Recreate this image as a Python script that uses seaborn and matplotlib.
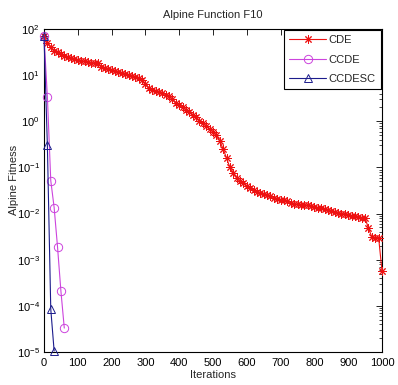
import numpy as np
import pandas as pd
import matplotlib
matplotlib.use("Agg")
import matplotlib.pyplot as plt
import seaborn as sns
from matplotlib.ticker import LogLocator, FixedLocator, NullFormatter

# ---- data ----
cde_iter = list(range(0, 1001, 10))
cde_vals = [70, 50, 40, 33, 31, 29, 26, 25, 24, 22,
            21, 20.5, 20, 19, 18.5, 18.5, 18, 15, 14.5, 13.5,
            13, 12.5, 11.5, 11, 10.5, 10, 9.5, 9, 8.5, 7.8,
            6.5, 5.2, 4.8, 4.5, 4.3, 4.1, 3.8, 3.5, 3.0, 2.5,
            2.2, 2.0, 1.8, 1.6, 1.4, 1.25, 1.0, 0.9, 0.8, 0.68,
            0.6, 0.5, 0.38, 0.25, 0.16, 0.1, 0.075, 0.06, 0.05, 0.045,
            0.04, 0.036, 0.032, 0.03, 0.028, 0.026, 0.025, 0.024, 0.022, 0.021,
            0.020, 0.0195, 0.019, 0.017, 0.016, 0.016, 0.0155, 0.0155, 0.015, 0.0148,
            0.014, 0.0135, 0.013, 0.0125, 0.0122, 0.0115, 0.011, 0.0105, 0.010, 0.0098,
            0.0095, 0.009, 0.0088, 0.0085, 0.0082, 0.008, 0.0048, 0.0031, 0.003, 0.003,
            0.00057]
ccde_iter = [0, 10, 20, 30, 40, 50, 60]
ccde_vals = [70, 3.4, 0.052, 0.0135, 0.0019, 0.00021, 3.3e-5]
ccdesc_iter = [0, 10, 20, 30]
ccdesc_vals = [70, 0.30, 8.5e-5, 1.05e-5]

series_names = ["CDE", "CCDE", "CCDESC"]
x_ticks = [0, 100, 200, 300, 400, 500, 600, 700, 800, 900, 1000]
title = "Alpine Function F10"
xlabel = "Iterations"
ylabel = "Alpine Fitness"

sns.set_style("white")
plt.rcParams['font.family'] = ['Liberation Sans', 'DejaVu Sans']
plt.rcParams['mathtext.default'] = 'regular'

fig = plt.figure(figsize=(3.98, 3.85), dpi=100)
ax = fig.add_axes([44/398, 1 - 352/385, (382-44)/398, (352-29)/385])

colors = {"CDE": "#ee1111", "CCDE": "#cc44dd", "CCDESC": "#1c1c8c"}
markers = {"CDE": (8, 2, 0), "CCDE": "o", "CCDESC": "^"}
data = {"CDE": (cde_iter, cde_vals), "CCDE": (ccde_iter, ccde_vals),
        "CCDESC": (ccdesc_iter, ccdesc_vals)}

for name in series_names:
    xs, ys = data[name]
    df = pd.DataFrame({"Iteration": xs, "Fitness": ys})
    sns.lineplot(data=df, x="Iteration", y="Fitness", ax=ax, label=name,
                 color=colors[name], marker=markers[name],
                 markersize=6 if name != "CDE" else 6.0,
                 markerfacecolor='none', markeredgecolor=colors[name],
                 markeredgewidth=0.7, linewidth=0.8, clip_on=False, zorder=3)

ax.set_yscale("log")
ax.set_xlim(0, 1000)
ax.set_ylim(1e-5, 1e2)
ax.xaxis.set_major_locator(FixedLocator(x_ticks))
ax.yaxis.set_major_locator(LogLocator(base=10, numticks=10))
ax.yaxis.set_minor_locator(LogLocator(base=10, subs=np.arange(2, 10), numticks=20))
ax.yaxis.set_minor_formatter(NullFormatter())
ax.xaxis.get_offset_text().set_visible(False)
ax.yaxis.get_offset_text().set_visible(False)

ax.tick_params(axis='both', which='both', direction='in', top=True, right=True,
               labelsize=8, colors='black')
ax.tick_params(axis='x', which='major', pad=4)
ax.tick_params(axis='y', which='major', pad=3)
ax.tick_params(axis='both', which='major', length=4, width=0.6)
ax.tick_params(axis='y', which='minor', length=2, width=0.5)
for sp in ax.spines.values():
    sp.set_color('black')
    sp.set_linewidth(0.8)

ax.set_title(title, fontsize=8, pad=8)
ax.set_xlabel(xlabel, fontsize=8, labelpad=2)
ax.set_ylabel(ylabel, fontsize=8)
ax.yaxis.set_label_coords(-0.075, 0.532)

leg = ax.legend(loc='upper right', fontsize=8, frameon=True, fancybox=False,
                framealpha=1, edgecolor='black', borderpad=0.45,
                handlelength=3.3, handletextpad=0.25, labelspacing=0.85,
                borderaxespad=0.1)
leg.get_frame().set_linewidth(0.8)

fig.savefig("out.png", dpi=100)
